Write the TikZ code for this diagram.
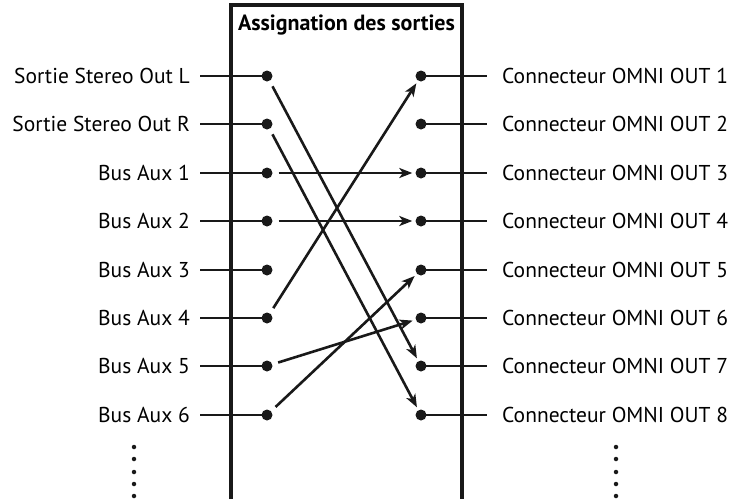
\documentclass[tikz,border=0pt]{standalone}
\usepackage{fontspec}
\setmainfont{PT Sans}
\usetikzlibrary{arrows.meta}
\begin{document}
\begin{tikzpicture}[x=1pt,y=-1pt,
  dotn/.style={circle,fill=black!90,inner sep=0pt,minimum size=11pt},
  smalldot/.style={circle,fill=black!90,inner sep=0pt,minimum size=4.5pt},
  lbl/.style={inner sep=0pt,font=\fontsize{21.5}{24}\selectfont},
  stub/.style={line width=2.6pt,black!90},
  conn/.style={line width=2.6pt,black!90,-{Stealth[length=13pt,width=10pt,inset=3.5pt]},shorten <=6pt,shorten >=3pt}]
\useasboundingbox (0,0) rectangle (748,499);
\draw[line width=4pt,black!90] (231,499) -- (231,5) -- (462,5) -- (462,499);
\node[lbl,font=\fontsize{22}{24}\selectfont\bfseries] (title) at (346.5,25) {Assignation des sorties};
\foreach \i/\y/\t in {1/76/Sortie Stereo Out L,2/124/Sortie Stereo Out R,3/173/Bus Aux 1,4/221/Bus Aux 2,5/270/Bus Aux 3,6/318/Bus Aux 4,7/366/Bus Aux 5,8/415/Bus Aux 6}{
  \coordinate (ls\i) at (200,\y);
  \node[dotn] (L\i) at (267,\y) {};
  \draw[stub] (ls\i) -- (L\i.center);
  \node[lbl,anchor=east] (lt\i) at (190,\y) {\t};
  \coordinate (rs\i) at (487,\y);
  \node[dotn] (R\i) at (421,\y) {};
  \draw[stub] (R\i.center) -- (rs\i);
  \node[lbl,anchor=west] (rt\i) at (502,\y) {Connecteur OMNI OUT \i};
}
\draw[conn] (L1) -- (R7);
\draw[conn] (L2) -- (R8);
\draw[conn] (L3) -- (R3);
\draw[conn] (L4) -- (R4);
\draw[conn] (L6) -- (R1);
\draw[conn] (L7) -- (R6);
\draw[conn] (L8) -- (R5);
\foreach \k/\y in {1/447,2/459,3/472,4/484,5/496}{
  \node[smalldot] (dl\k) at (134,\y) {};
  \node[smalldot] (dr\k) at (616,\y) {};
}
\end{tikzpicture}
\end{document}
